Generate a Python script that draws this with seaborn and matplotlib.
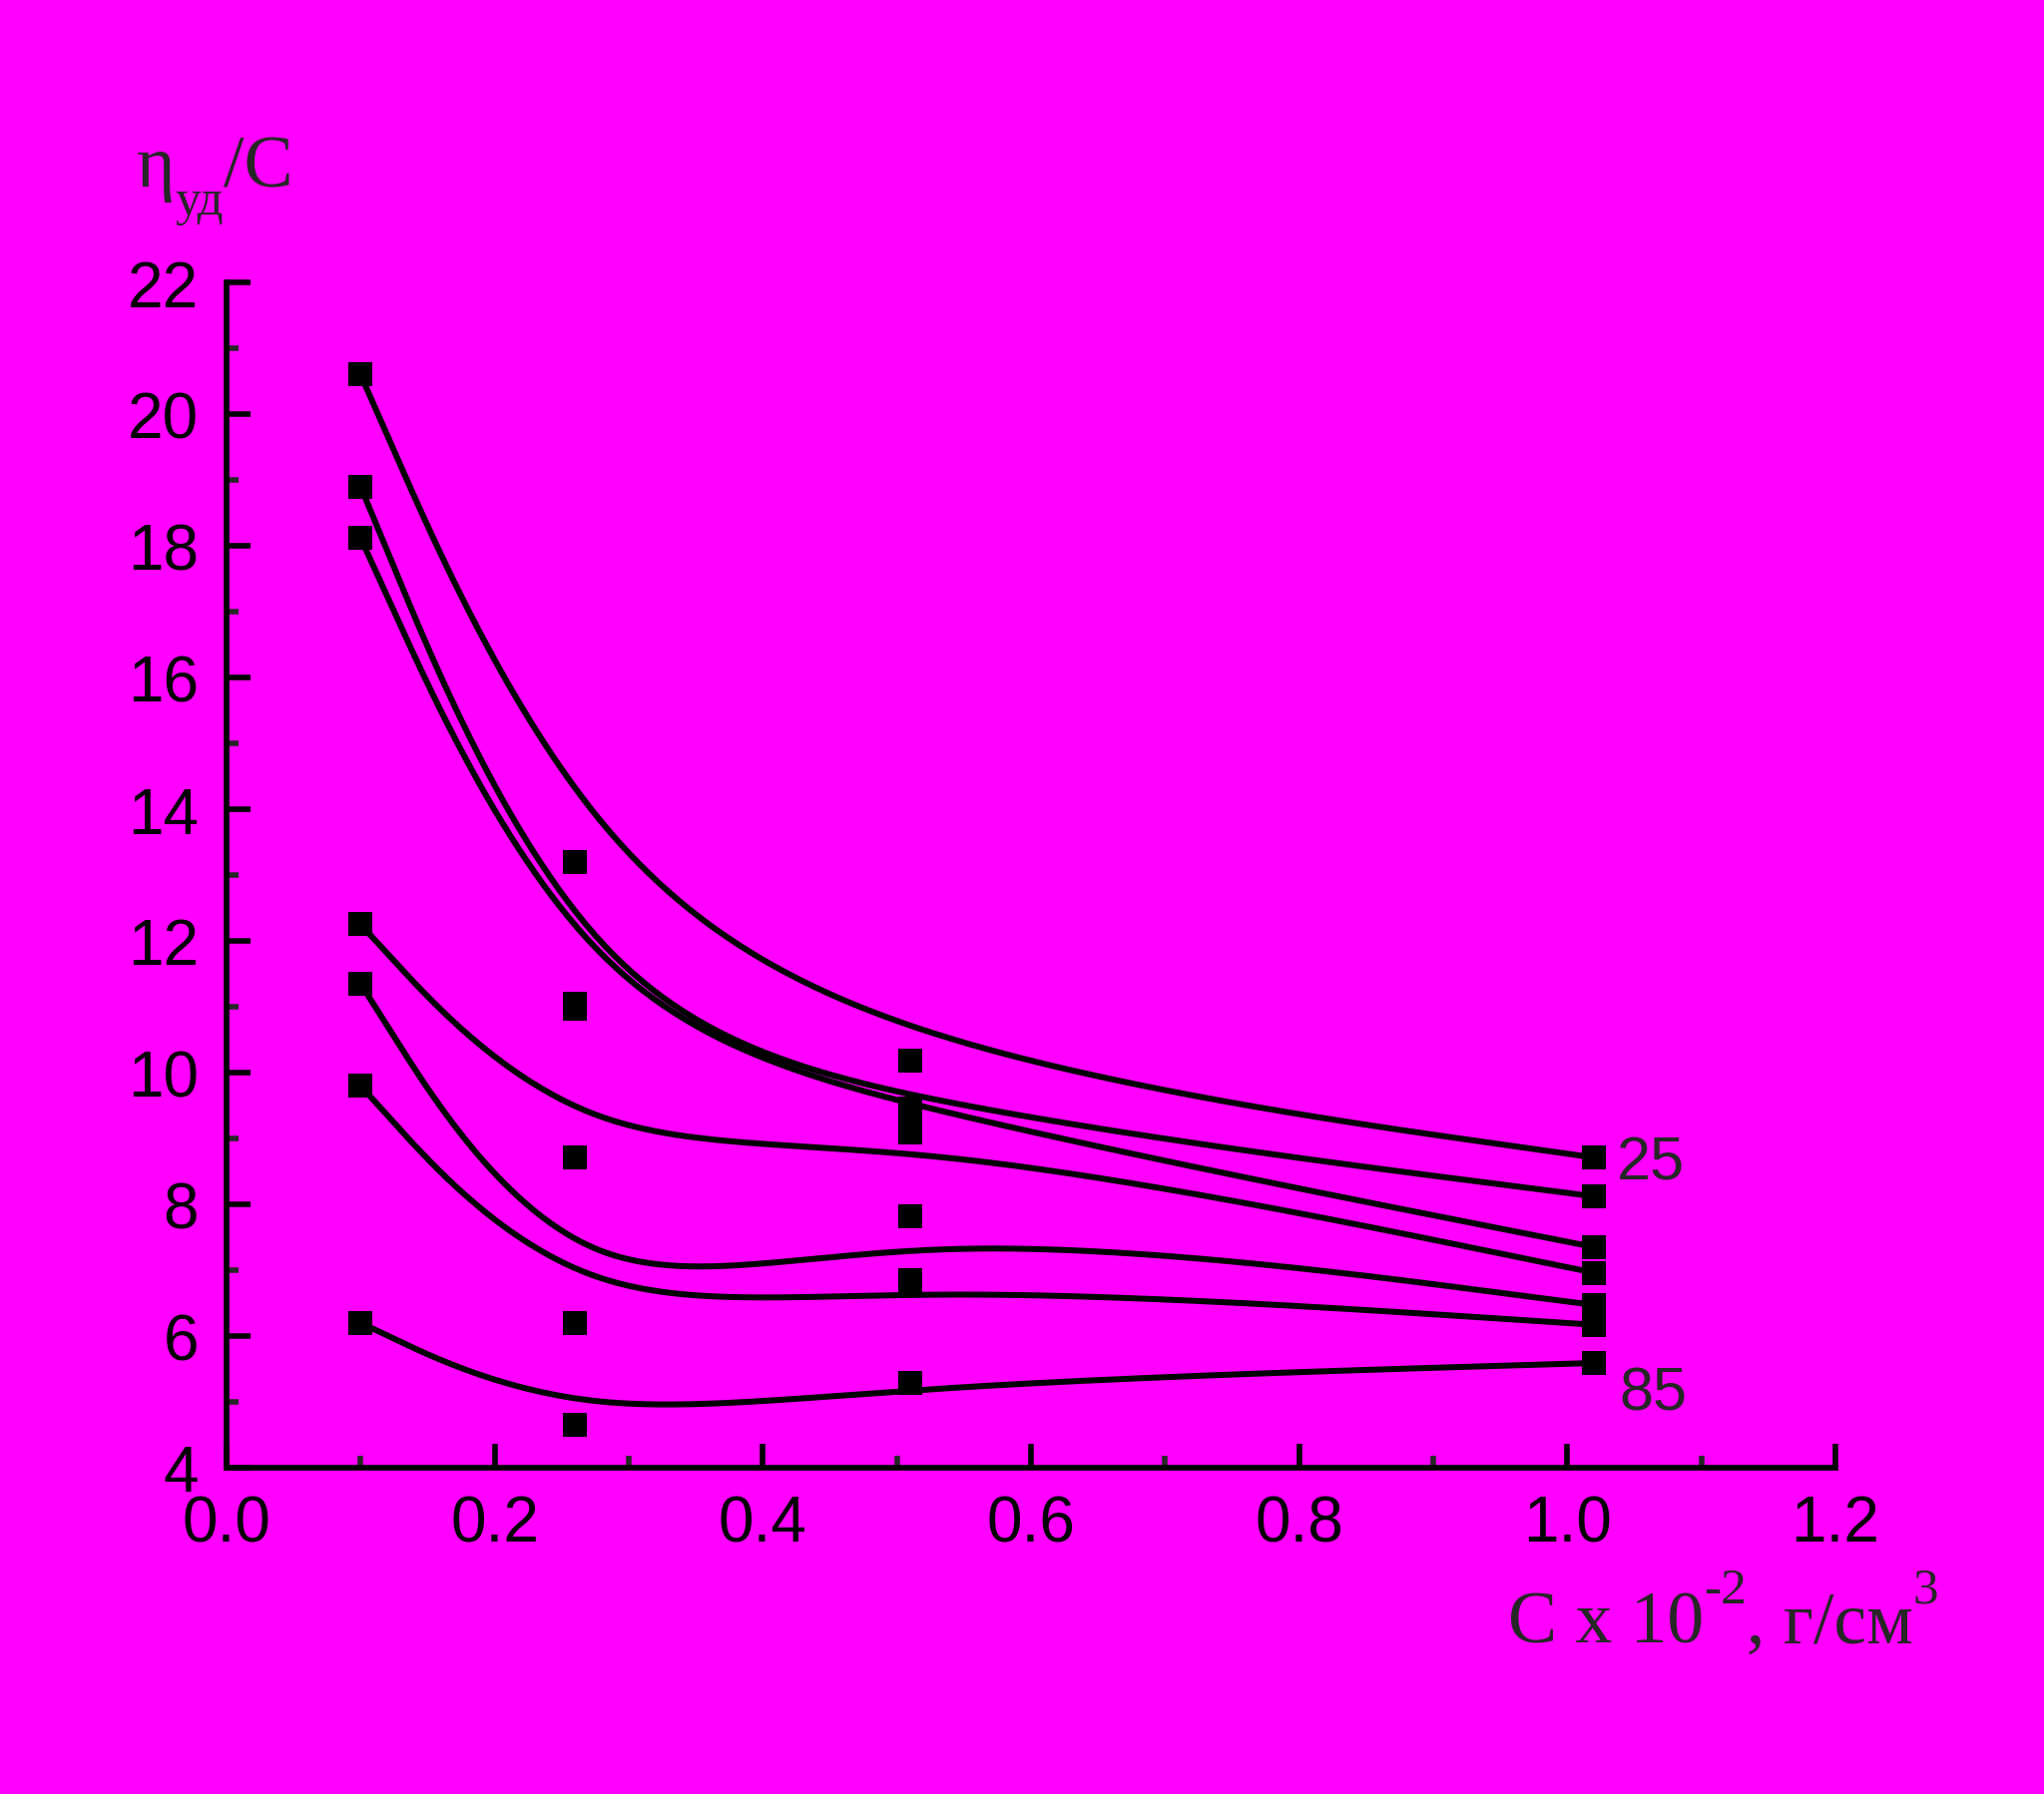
import numpy as np
import pandas as pd
import matplotlib
matplotlib.use("Agg")
import matplotlib.pyplot as plt
from matplotlib.ticker import MultipleLocator, FormatStrFormatter
import seaborn as sns

BG = "#FF00FF"

# concentration, C x 10^-2 g/cm3
conc = [0.10, 0.26, 0.51, 1.02]

# reduced viscosity eta_sp / C for each temperature
temps = [25, 35, 45, 55, 65, 75, 85]
eta_25 = [20.60, 13.19, 10.18, 8.71]
eta_35 = [18.90, 11.04, 9.45, 8.12]
eta_45 = [18.12, 10.97, 9.40, 7.35]
eta_55 = [12.25, 8.71, 9.09, 6.96]
eta_65 = [11.35, 6.20, 7.82, 6.47]
eta_75 = [9.80, 6.20, 6.85, 6.17]
eta_85 = [6.20, 4.65, 5.28, 5.59]
all_eta = [eta_25, eta_35, eta_45, eta_55, eta_65, eta_75, eta_85]

x_ticks = [0.0, 0.2, 0.4, 0.6, 0.8, 1.0, 1.2]
y_ticks = [4, 6, 8, 10, 12, 14, 16, 18, 20, 22]


def bspline3(xs, ys, num=60):
    """uniform cubic B-spline, data points as control points, ends repeated"""
    pts = np.column_stack([xs, ys]).astype(float)
    ctrl = np.vstack([pts[:1], pts[:1], pts, pts[-1:], pts[-1:]])
    t = np.linspace(0, 1, num)[:, None]
    b0 = (1 - t) ** 3 / 6
    b1 = (3 * t ** 3 - 6 * t ** 2 + 4) / 6
    b2 = (-3 * t ** 3 + 3 * t ** 2 + 3 * t + 1) / 6
    b3 = t ** 3 / 6
    segs = []
    for i in range(len(ctrl) - 3):
        a, b, c, d = ctrl[i:i + 4]
        seg = b0 * a + b1 * b + b2 * c + b3 * d
        segs.append(seg if i == 0 else seg[1:])
    return np.vstack(segs)


point_rows = []
curve_rows = []
for T, vals in zip(temps, all_eta):
    for c, v in zip(conc, vals):
        point_rows.append({"C": c, "eta": v, "T": T})
    for cx, cy in bspline3(conc, vals):
        curve_rows.append({"C": cx, "eta": cy, "T": T})
points = pd.DataFrame(point_rows)
curves = pd.DataFrame(curve_rows)

sns.set_style("ticks")
plt.rcParams["font.family"] = ["Liberation Sans", "DejaVu Sans"]

fig = plt.figure(figsize=(20.48, 17.99), dpi=100, facecolor=BG)
ax = fig.add_axes([0.1108, 0.1818, 0.898 - 0.1108, 0.8421 - 0.1818])
ax.set_facecolor(BG)

sns.lineplot(data=curves, x="C", y="eta", units="T", estimator=None,
             sort=False, color="black", linewidth=4.3, ax=ax, legend=False)
sns.scatterplot(data=points, x="C", y="eta", marker="s", s=300,
                color="black", linewidth=0, ax=ax, legend=False, zorder=3)

ax.set_xlim(0, 1.2)
ax.set_ylim(4, 22)
ax.set_xticks(x_ticks)
ax.set_yticks(y_ticks)
ax.xaxis.set_major_formatter(FormatStrFormatter("%.1f"))
ax.yaxis.set_major_formatter(FormatStrFormatter("%d"))
ax.xaxis.set_minor_locator(MultipleLocator(0.1))
ax.yaxis.set_minor_locator(MultipleLocator(1))
ax.set_xlabel("")
ax.set_ylabel("")

for side in ["top", "right"]:
    ax.spines[side].set_visible(False)
for side in ["left", "bottom"]:
    ax.spines[side].set_linewidth(4.1)
    ax.spines[side].set_color("black")

ax.tick_params(which="major", direction="in", length=17.5, width=4,
               labelsize=46, colors="black")
ax.tick_params(which="minor", direction="in", length=8.6, width=4)
ax.tick_params(axis="x", which="major", pad=19)
ax.tick_params(axis="y", which="major", pad=20)

ax.text(1.037, 8.39, "25", fontsize=44, ha="left", va="baseline")
ax.text(1.039, 4.89, "85", fontsize=44, ha="left", va="baseline")


def draw_pieces(x0, y0, pieces, family):
    # pieces: (text, size in pt, vertical shift in px); laid out left to right
    renderer = fig.canvas.get_renderer()
    x = x0
    for s, size, dy in pieces:
        t = fig.text(x, y0 + dy / fig.bbox.height, s, family=family,
                     fontsize=size, ha="left", va="baseline")
        x += t.get_window_extent(renderer).width / fig.bbox.width


serif = ["Liberation Serif", "DejaVu Serif"]
draw_pieces(137 / 2048, 1 - 187 / 1799,
            [("η", 53, 0), ("уд", 37, -28), ("/C", 53, 0)], serif)
draw_pieces(1511 / 2048, 1 - 1647 / 1799,
            [("C x 10", 53, 0), ("-2", 37, 40), (", г/см", 53, 0), ("3", 37, 40)],
            serif)

fig.savefig("out.png", dpi=100, facecolor=BG)
